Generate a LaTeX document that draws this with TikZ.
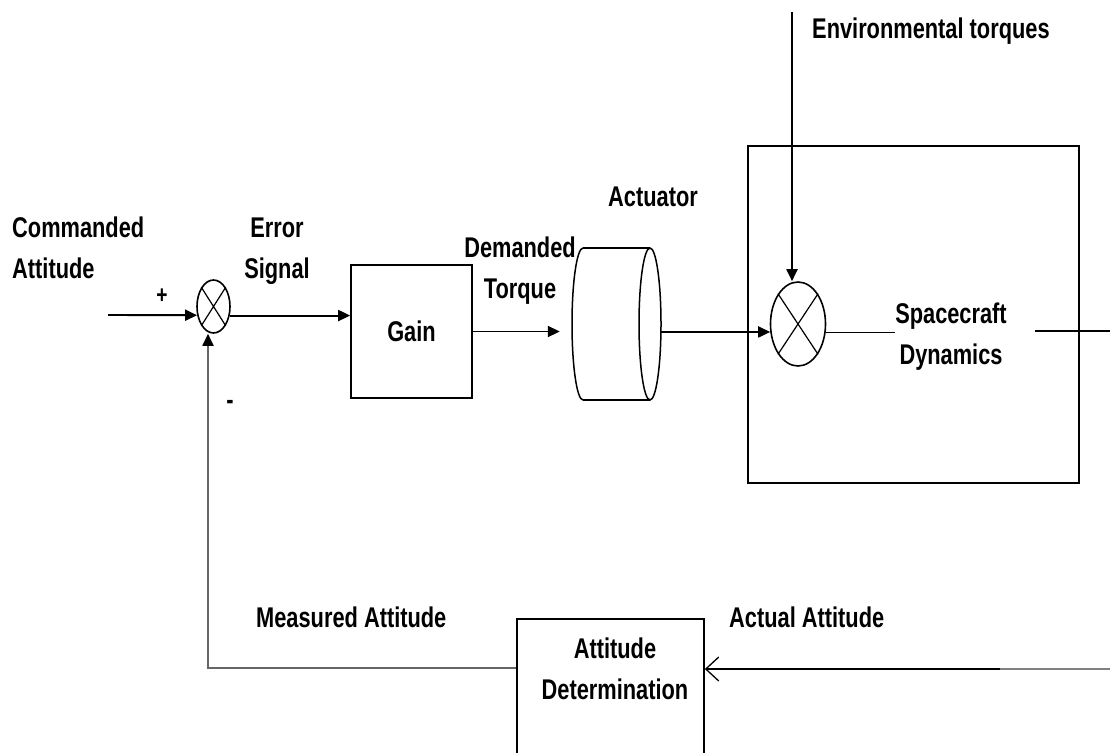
\documentclass[tikz,border=0pt]{standalone}
\usepackage{fontspec}
\newfontfamily\labfont{Liberation Sans}[FakeStretch=0.765]
\usetikzlibrary{arrows.meta,shapes.geometric}
\begin{document}
\begin{tikzpicture}[x=1pt,y=-1pt,
  lab/.style={font=\labfont\bfseries\fontsize{28.5}{41}\selectfont, inner sep=0pt, align=center},
  blk/.style={draw, line width=1.6pt, inner sep=0pt},
  sumj/.style={ellipse, draw, line width=1.6pt, inner sep=0pt},
  wire/.style={line width=1.9pt},
  arr/.style={wire, -{Triangle[length=12pt,width=11pt]}},
  fbwire/.style={line width=1.9pt, draw=black!60},
]
\useasboundingbox (0,0) rectangle (1110,752);

% blocks
\node[blk, minimum width=331pt, minimum height=337pt] (sc) at (913.5,314.5) {};
\node[sumj, minimum width=33pt, minimum height=53pt] (s1) at (213.5,306.5) {};
\draw[line width=1.2pt] (s1.north west) -- (s1.south east) (s1.north east) -- (s1.south west);
\node[sumj, minimum width=55pt, minimum height=84pt] (s2) at (798,324) {};
\draw[line width=1.2pt] (s2.north west) -- (s2.south east) (s2.north east) -- (s2.south west);
\node[blk, lab, minimum width=121pt, minimum height=133pt] (gain) at (411.5,331.5) {Gain};

% actuator cylinder
\node[minimum width=89pt, minimum height=152pt, inner sep=0pt] (act) at (616.5,324) {};
\draw[line width=1.5pt] (583,248) -- (650,248) (583,400) -- (650,400);
\draw[line width=1.5pt] (583,248) arc[start angle=-90, end angle=-270, x radius=11, y radius=76];
\draw[line width=1.5pt] (650,324) ellipse[x radius=11, y radius=76];

\node[blk, minimum width=187pt, minimum height=141pt] (ad) at (610.5,689.5) {};

% labels
\node[lab, anchor=north west, align=left] (cmd) at (12,217) {Commanded\\Attitude};
\node[lab, anchor=north] (err) at (277,218) {Error\\Signal};
\node[lab, font=\labfont\bfseries\fontsize{25}{28}\selectfont] (plus) at (162,296) {+};
\node[lab] (minus) at (230,405) {-};
\node[lab, anchor=north] (dt) at (520,237) {Demanded\\Torque};
\node[lab, anchor=north] (actl) at (653,187) {Actuator};
\node[lab, anchor=north west] (envl) at (812,18) {Environmental torques};
\node[lab, anchor=north] (sd) at (951,303) {Spacecraft\\Dynamics};
\node[lab, anchor=north west] (meas) at (256,607) {Measured Attitude};
\node[lab, anchor=north west] (actatt) at (729,607) {Actual Attitude};
\node[lab, anchor=north] (adt) at (615,638) {Attitude\\Determination};

% wires
\coordinate (in) at (108,315);
\draw[arr] (in) -- (s1.208.6);
\draw[arr] (s1.331.4) -- (gain.west |- s1.331.4);
\draw[arr, shorten >=12pt] (gain.east) -- (act.west |- gain.east);
\draw[arr] (act.east |- s2.196.5) -- (s2.196.5);
\coordinate (env) at (792,12);
\draw[arr] (env) -- (env |- s2.north);
\draw[wire] (s2.343.5) -- (sd.west |- s2.343.5);
\coordinate (out) at (1112,331);
\draw[wire, shorten <=28pt] (sd.east |- out) -- (out);

\coordinate (aa) at (1112,669);
\coordinate (ab) at (1000,669);
\draw[line width=1.9pt, black!50] (aa) -- (ab);
\draw[wire, -{Straight Barb[length=13pt,width=24pt,line width=1.3pt]}] (ab) -- (ad.east |- ab);

\coordinate (c) at (208,668);
\draw[fbwire, -{Triangle[length=12pt,width=11pt,color=black]}] (ad.west |- c) -- (c) -- (c |- s1.south);
\end{tikzpicture}
\end{document}
